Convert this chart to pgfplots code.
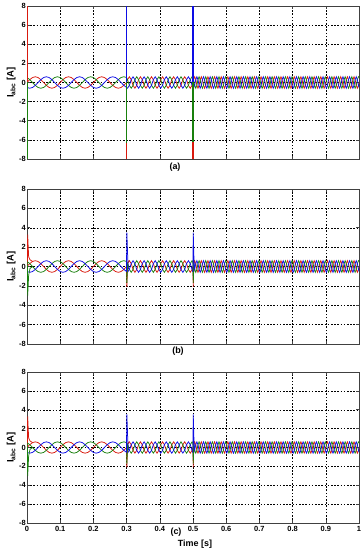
\documentclass[border=0pt]{standalone}
\usepackage{pgfplots}
\pgfplotsset{compat=1.18}
\usepackage{pgfplotstable}
\usepackage{fontspec}
\setmainfont{Liberation Sans}
\definecolor{pa}{rgb}{0.85,0.1,0.05}
\definecolor{pb}{rgb}{0.05,0.05,0.9}
\definecolor{pc}{rgb}{0.1,0.5,0.05}

\pgfplotstableread{
t a b c
0 0 -0.52 0.52
0.0083 0.3 -0.6 0.3
0.0167 0.52 -0.52 0
0.025 0.6 -0.3 -0.3
0.0333 0.52 0 -0.52
0.0417 0.3 0.3 -0.6
0.05 0 0.52 -0.52
0.0583 -0.3 0.6 -0.3
0.0667 -0.52 0.52 0
0.075 -0.6 0.3 0.3
0.0833 -0.52 0 0.52
0.0917 -0.3 -0.3 0.6
0.1 0 -0.52 0.52
0.1083 0.3 -0.6 0.3
0.1167 0.52 -0.52 0
0.125 0.6 -0.3 -0.3
0.1333 0.52 0 -0.52
0.1417 0.3 0.3 -0.6
0.15 0 0.52 -0.52
0.1583 -0.3 0.6 -0.3
0.1667 -0.52 0.52 0
0.175 -0.6 0.3 0.3
0.1833 -0.52 0 0.52
0.1917 -0.3 -0.3 0.6
0.2 0 -0.52 0.52
0.2083 0.3 -0.6 0.3
0.2167 0.52 -0.52 0
0.225 0.6 -0.3 -0.3
0.2333 0.52 0 -0.52
0.2417 0.3 0.3 -0.6
0.25 0 0.52 -0.52
0.2583 -0.3 0.6 -0.3
0.2667 -0.52 0.52 0
0.275 -0.6 0.3 0.3
0.2833 -0.52 0 0.52
0.2917 -0.3 -0.3 0.6
0.3 0 -0.52 0.52
0.30278 0.3 -0.6 0.3
0.30833 0.6 -0.3 -0.3
0.31389 0.3 0.3 -0.6
0.31944 -0.3 0.6 -0.3
0.325 -0.6 0.3 0.3
0.33056 -0.3 -0.3 0.6
0.33611 0.3 -0.6 0.3
0.34167 0.6 -0.3 -0.3
0.34722 0.3 0.3 -0.6
0.35278 -0.3 0.6 -0.3
0.35833 -0.6 0.3 0.3
0.36389 -0.3 -0.3 0.6
0.36944 0.3 -0.6 0.3
0.375 0.6 -0.3 -0.3
0.38056 0.3 0.3 -0.6
0.38611 -0.3 0.6 -0.3
0.39167 -0.6 0.3 0.3
0.39722 -0.3 -0.3 0.6
0.40278 0.3 -0.6 0.3
0.40833 0.6 -0.3 -0.3
0.41389 0.3 0.3 -0.6
0.41944 -0.3 0.6 -0.3
0.425 -0.6 0.3 0.3
0.43056 -0.3 -0.3 0.6
0.43611 0.3 -0.6 0.3
0.44167 0.6 -0.3 -0.3
0.44722 0.3 0.3 -0.6
0.45278 -0.3 0.6 -0.3
0.45833 -0.6 0.3 0.3
0.46389 -0.3 -0.3 0.6
0.46944 0.3 -0.6 0.3
0.475 0.6 -0.3 -0.3
0.48056 0.3 0.3 -0.6
0.48611 -0.3 0.6 -0.3
0.49167 -0.6 0.3 0.3
0.49722 -0.3 -0.3 0.6
0.5 0 -0.52 0.52
0.50167 0.3 -0.6 0.3
0.505 0.6 -0.3 -0.3
0.50833 0.3 0.3 -0.6
0.51167 -0.3 0.6 -0.3
0.515 -0.6 0.3 0.3
0.51833 -0.3 -0.3 0.6
0.52167 0.3 -0.6 0.3
0.525 0.6 -0.3 -0.3
0.52833 0.3 0.3 -0.6
0.53167 -0.3 0.6 -0.3
0.535 -0.6 0.3 0.3
0.53833 -0.3 -0.3 0.6
0.54167 0.3 -0.6 0.3
0.545 0.6 -0.3 -0.3
0.54833 0.3 0.3 -0.6
0.55167 -0.3 0.6 -0.3
0.555 -0.6 0.3 0.3
0.55833 -0.3 -0.3 0.6
0.56167 0.3 -0.6 0.3
0.565 0.6 -0.3 -0.3
0.56833 0.3 0.3 -0.6
0.57167 -0.3 0.6 -0.3
0.575 -0.6 0.3 0.3
0.57833 -0.3 -0.3 0.6
0.58167 0.3 -0.6 0.3
0.585 0.6 -0.3 -0.3
0.58833 0.3 0.3 -0.6
0.59167 -0.3 0.6 -0.3
0.595 -0.6 0.3 0.3
0.59833 -0.3 -0.3 0.6
0.60167 0.3 -0.6 0.3
0.605 0.6 -0.3 -0.3
0.60833 0.3 0.3 -0.6
0.61167 -0.3 0.6 -0.3
0.615 -0.6 0.3 0.3
0.61833 -0.3 -0.3 0.6
0.62167 0.3 -0.6 0.3
0.625 0.6 -0.3 -0.3
0.62833 0.3 0.3 -0.6
0.63167 -0.3 0.6 -0.3
0.635 -0.6 0.3 0.3
0.63833 -0.3 -0.3 0.6
0.64167 0.3 -0.6 0.3
0.645 0.6 -0.3 -0.3
0.64833 0.3 0.3 -0.6
0.65167 -0.3 0.6 -0.3
0.655 -0.6 0.3 0.3
0.65833 -0.3 -0.3 0.6
0.66167 0.3 -0.6 0.3
0.665 0.6 -0.3 -0.3
0.66833 0.3 0.3 -0.6
0.67167 -0.3 0.6 -0.3
0.675 -0.6 0.3 0.3
0.67833 -0.3 -0.3 0.6
0.68167 0.3 -0.6 0.3
0.685 0.6 -0.3 -0.3
0.68833 0.3 0.3 -0.6
0.69167 -0.3 0.6 -0.3
0.695 -0.6 0.3 0.3
0.69833 -0.3 -0.3 0.6
0.70167 0.3 -0.6 0.3
0.705 0.6 -0.3 -0.3
0.70833 0.3 0.3 -0.6
0.71167 -0.3 0.6 -0.3
0.715 -0.6 0.3 0.3
0.71833 -0.3 -0.3 0.6
0.72167 0.3 -0.6 0.3
0.725 0.6 -0.3 -0.3
0.72833 0.3 0.3 -0.6
0.73167 -0.3 0.6 -0.3
0.735 -0.6 0.3 0.3
0.73833 -0.3 -0.3 0.6
0.74167 0.3 -0.6 0.3
0.745 0.6 -0.3 -0.3
0.74833 0.3 0.3 -0.6
0.75167 -0.3 0.6 -0.3
0.755 -0.6 0.3 0.3
0.75833 -0.3 -0.3 0.6
0.76167 0.3 -0.6 0.3
0.765 0.6 -0.3 -0.3
0.76833 0.3 0.3 -0.6
0.77167 -0.3 0.6 -0.3
0.775 -0.6 0.3 0.3
0.77833 -0.3 -0.3 0.6
0.78167 0.3 -0.6 0.3
0.785 0.6 -0.3 -0.3
0.78833 0.3 0.3 -0.6
0.79167 -0.3 0.6 -0.3
0.795 -0.6 0.3 0.3
0.79833 -0.3 -0.3 0.6
0.80167 0.3 -0.6 0.3
0.805 0.6 -0.3 -0.3
0.80833 0.3 0.3 -0.6
0.81167 -0.3 0.6 -0.3
0.815 -0.6 0.3 0.3
0.81833 -0.3 -0.3 0.6
0.82167 0.3 -0.6 0.3
0.825 0.6 -0.3 -0.3
0.82833 0.3 0.3 -0.6
0.83167 -0.3 0.6 -0.3
0.835 -0.6 0.3 0.3
0.83833 -0.3 -0.3 0.6
0.84167 0.3 -0.6 0.3
0.845 0.6 -0.3 -0.3
0.84833 0.3 0.3 -0.6
0.85167 -0.3 0.6 -0.3
0.855 -0.6 0.3 0.3
0.85833 -0.3 -0.3 0.6
0.86167 0.3 -0.6 0.3
0.865 0.6 -0.3 -0.3
0.86833 0.3 0.3 -0.6
0.87167 -0.3 0.6 -0.3
0.875 -0.6 0.3 0.3
0.87833 -0.3 -0.3 0.6
0.88167 0.3 -0.6 0.3
0.885 0.6 -0.3 -0.3
0.88833 0.3 0.3 -0.6
0.89167 -0.3 0.6 -0.3
0.895 -0.6 0.3 0.3
0.89833 -0.3 -0.3 0.6
0.90167 0.3 -0.6 0.3
0.905 0.6 -0.3 -0.3
0.90833 0.3 0.3 -0.6
0.91167 -0.3 0.6 -0.3
0.915 -0.6 0.3 0.3
0.91833 -0.3 -0.3 0.6
0.92167 0.3 -0.6 0.3
0.925 0.6 -0.3 -0.3
0.92833 0.3 0.3 -0.6
0.93167 -0.3 0.6 -0.3
0.935 -0.6 0.3 0.3
0.93833 -0.3 -0.3 0.6
0.94167 0.3 -0.6 0.3
0.945 0.6 -0.3 -0.3
0.94833 0.3 0.3 -0.6
0.95167 -0.3 0.6 -0.3
0.955 -0.6 0.3 0.3
0.95833 -0.3 -0.3 0.6
0.96167 0.3 -0.6 0.3
0.965 0.6 -0.3 -0.3
0.96833 0.3 0.3 -0.6
0.97167 -0.3 0.6 -0.3
0.975 -0.6 0.3 0.3
0.97833 -0.3 -0.3 0.6
0.98167 0.3 -0.6 0.3
0.985 0.6 -0.3 -0.3
0.98833 0.3 0.3 -0.6
0.99167 -0.3 0.6 -0.3
0.995 -0.6 0.3 0.3
0.99833 -0.3 -0.3 0.6
1 0 -0.52 0.52
}\wave

\pgfplotsset{
  panel/.style={
    width=332bp, scale only axis,
    xmin=0, xmax=1, ymin=-8, ymax=8,
    xtick={0,0.1,0.2,0.3,0.4,0.5,0.6,0.7,0.8,0.9,1},
    ytick={-8,-6,-4,-2,0,2,4,6,8},
    grid=major,
    major grid style={black, line width=0.5bp, dash pattern=on 1.6bp off 1.6bp},
    axis line style={black!75, line width=0.8bp},
    tick style={black!75, line width=0.6bp},
    tick align=inside, major tick length=3bp,
    xtick pos=both, ytick pos=both,
    ticklabel style={font=\fontsize{7.5}{8}\selectfont\bfseries},
    yticklabel style={inner xsep=1bp},
    /pgf/number format/assume math mode=true,
    ylabel={I\textsubscript{abc} [A]},
    ylabel style={font=\fontsize{9.5}{10}\selectfont\bfseries, yshift=-1bp},
    every axis plot/.append style={line width=0.75bp},
  }
}

\begin{document}
\begin{tikzpicture}
\useasboundingbox (0,0) rectangle (363bp,-550bp);

% ---------------- (a)
\begin{axis}[panel, height=153bp, at={(27bp,-6bp)}, anchor=north west, xticklabels={}]
\addplot[pa] table[x=t,y=a]{\wave};
\addplot[pc] table[x=t,y=c]{\wave};
\addplot[pb] table[x=t,y=b]{\wave};
\addplot[pa, line width=1.3bp] coordinates {(0.002,0) (0.002,9)};
\addplot[pc, line width=1.3bp] coordinates {(0.002,0) (0.002,-9)};
\addplot[pa, line width=1.3bp] coordinates {(0.3,0) (0.3,-9)};
\addplot[pc, line width=1.3bp] coordinates {(0.3,0) (0.3,-6.3)};
\addplot[pb, line width=1.3bp] coordinates {(0.3,0) (0.3,9)};
\addplot[pa, line width=1.3bp] coordinates {(0.5,0) (0.5,-9)};
\addplot[pc, line width=1.3bp] coordinates {(0.5,0) (0.5,-6.2)};
\addplot[pb, line width=1.3bp] coordinates {(0.5,0) (0.5,9)};
\end{axis}
\node[font=\fontsize{9}{10}\selectfont\bfseries] at (175bp,-167bp) {(a)};

% ---------------- (b)
\begin{axis}[panel, height=155bp, at={(27bp,-189bp)}, anchor=north west, xticklabels={}]
\addplot[pa] table[x=t,y=a]{\wave};
\addplot[pc] table[x=t,y=c]{\wave};
\addplot[pb] table[x=t,y=b]{\wave};
\addplot[pa] coordinates {(0.001,0) (0.002,3.3) (0.005,1.0) (0.009,0.7) (0.0167,0.52)};
\addplot[pc] coordinates {(0.001,0.52) (0.002,-3.0) (0.005,-0.9) (0.009,-0.2) (0.0167,0)};
\addplot[pa] coordinates {(0.2995,0) (0.3008,-2.1) (0.303,0.3) (0.3056,0.6)};
\addplot[pc] coordinates {(0.2995,0.52) (0.3008,-1.7) (0.303,0.3) (0.3056,0)};
\addplot[pb] coordinates {(0.2995,-0.55) (0.3008,3.5) (0.3035,0.8) (0.3056,-0.3)};
\addplot[pa] coordinates {(0.4995,0) (0.5008,-2.1) (0.5025,0.3) (0.505,0.6)};
\addplot[pc] coordinates {(0.4995,0.52) (0.5008,-1.7) (0.5025,0.3) (0.505,-0.3)};
\addplot[pb] coordinates {(0.4995,-0.55) (0.5008,3.5) (0.503,0.6) (0.505,-0.3)};
\end{axis}
\node[font=\fontsize{9}{10}\selectfont\bfseries] at (178bp,-351bp) {(b)};

% ---------------- (c)
\begin{axis}[panel, height=151bp, at={(27bp,-372bp)}, anchor=north west]
\addplot[pa] table[x=t,y=a]{\wave};
\addplot[pc] table[x=t,y=c]{\wave};
\addplot[pb] table[x=t,y=b]{\wave};
\addplot[pa] coordinates {(0.001,0) (0.002,3.3) (0.005,1.0) (0.009,0.7) (0.0167,0.52)};
\addplot[pc] coordinates {(0.001,0.52) (0.002,-3.0) (0.005,-0.9) (0.009,-0.2) (0.0167,0)};
\addplot[pa] coordinates {(0.2995,0) (0.3008,-2.1) (0.303,0.3) (0.3056,0.6)};
\addplot[pc] coordinates {(0.2995,0.52) (0.3008,-1.7) (0.303,0.3) (0.3056,0)};
\addplot[pb] coordinates {(0.2995,-0.55) (0.3008,3.5) (0.3035,0.8) (0.3056,-0.3)};
\addplot[pa] coordinates {(0.4995,0) (0.5008,-2.1) (0.5025,0.3) (0.505,0.6)};
\addplot[pc] coordinates {(0.4995,0.52) (0.5008,-1.7) (0.5025,0.3) (0.505,-0.3)};
\addplot[pb] coordinates {(0.4995,-0.55) (0.5008,3.5) (0.503,0.6) (0.505,-0.3)};
\end{axis}
\node[font=\fontsize{9}{10}\selectfont\bfseries] at (176bp,-532bp) {(c)};
\node[font=\fontsize{9}{10}\selectfont\bfseries] at (195bp,-544bp) {Time [s]};
\end{tikzpicture}
\end{document}
